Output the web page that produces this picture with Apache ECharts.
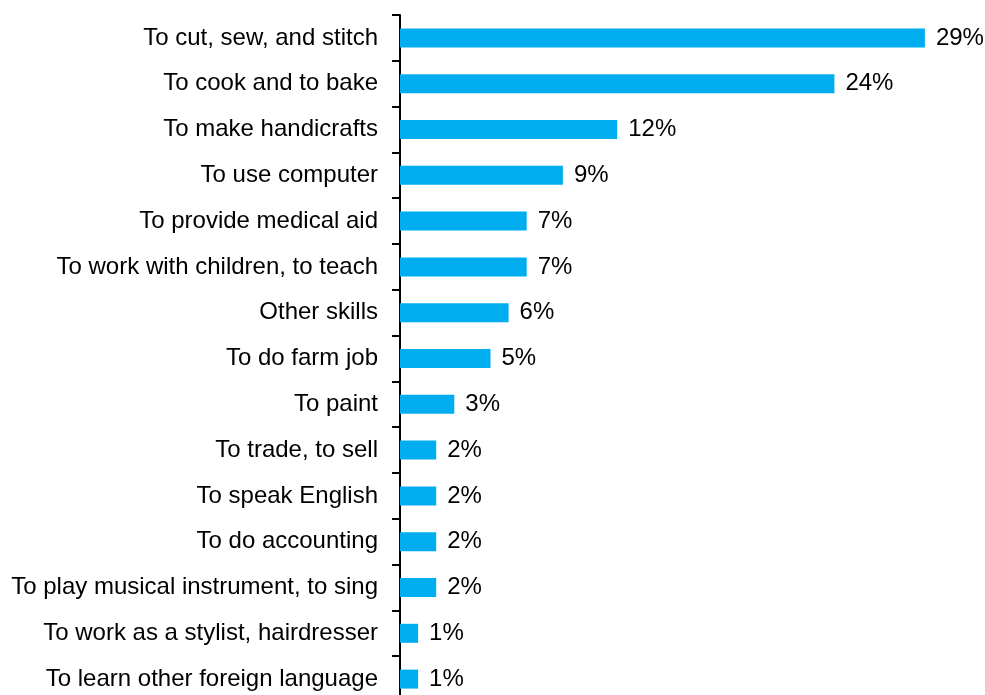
<!DOCTYPE html>
<html>
<head>
<meta charset="utf-8">
<script src="https://cdn.jsdelivr.net/npm/echarts@6/dist/echarts.min.js"></script>
<style>
  html, body { margin: 0; padding: 0; background: #fff; }
  #chart { width: 985px; height: 695px; }
</style>
</head>
<body>
<div id="chart"></div>
<script>
// Skills respondents would like to learn, share of answers (%)
const categories = [
  'To cut, sew, and stitch',
  'To cook and to bake',
  'To make handicrafts',
  'To use computer',
  'To provide medical aid',
  'To work with children, to teach',
  'Other skills',
  'To do farm job',
  'To paint',
  'To trade, to sell',
  'To speak English',
  'To do accounting',
  'To play musical instrument, to sing',
  'To work as a stylist, hairdresser',
  'To learn other foreign language'
];
const shares = [29, 24, 12, 9, 7, 7, 6, 5, 3, 2, 2, 2, 2, 1, 1];

const FONT = 'Liberation Sans, Arial, sans-serif';

const chart = echarts.init(document.getElementById('chart'), null, { renderer: 'canvas' });
chart.setOption({
  backgroundColor: '#ffffff',
  animation: false,
  grid: {
    left: 400,
    right: 42,
    top: 15,
    height: 687,
    outerBoundsMode: 'none'
  },
  xAxis: {
    type: 'value',
    min: 0,
    max: 30,
    show: false
  },
  yAxis: {
    type: 'category',
    data: categories,
    inverse: true,
    axisLine: { show: true, lineStyle: { color: '#000', width: 2 } },
    axisTick: { show: true, length: 8, lineStyle: { color: '#000', width: 2 } },
    axisLabel: {
      color: '#000',
      fontFamily: FONT,
      fontSize: 24,
      margin: 22
    },
    splitLine: { show: false }
  },
  series: [{
    type: 'bar',
    data: shares,
    barWidth: 19,
    itemStyle: { color: '#00ADEE' },
    label: {
      show: true,
      position: 'right',
      distance: 11,
      color: '#000',
      fontFamily: FONT,
      fontSize: 24,
      formatter: p => p.value + '%'
    }
  }]
});
</script>
</body>
</html>
